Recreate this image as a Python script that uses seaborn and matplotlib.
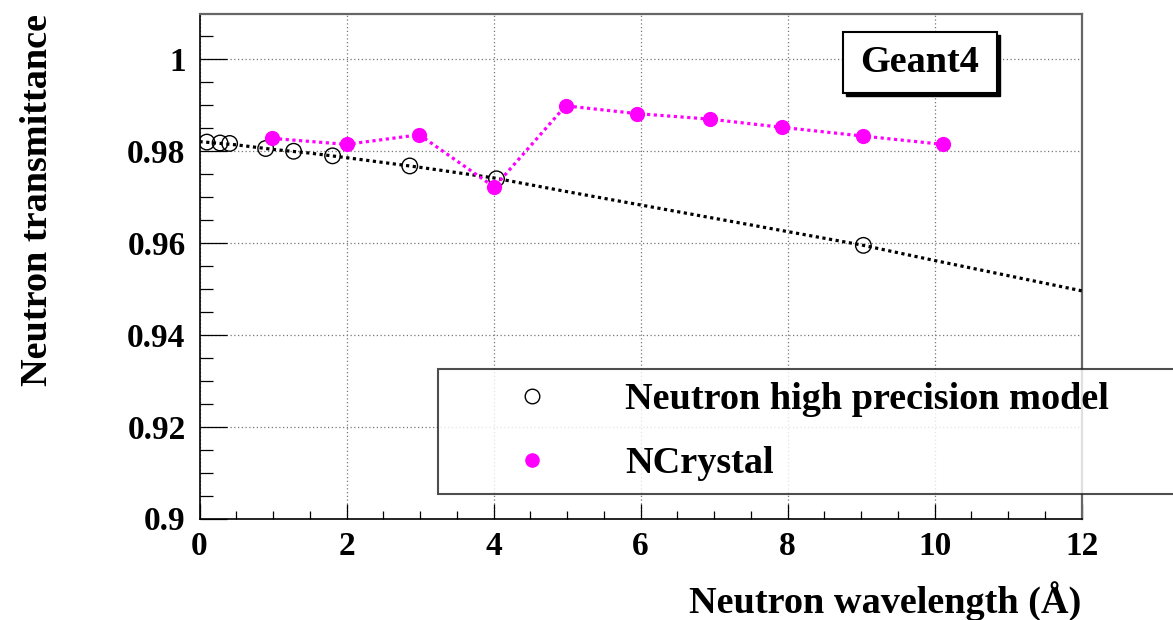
"""Neutron transmittance vs wavelength, ROOT-style figure redrawn with seaborn."""

import numpy as np
import pandas as pd
import matplotlib
matplotlib.use("Agg")
import matplotlib.pyplot as plt
from matplotlib.lines import Line2D
from matplotlib.patches import Rectangle
from matplotlib.ticker import MultipleLocator
import seaborn as sns

# data
hp_wavelength = [0.10, 0.28, 0.41, 0.90, 1.28, 1.81, 2.86, 4.04, 9.03]
hp_transmittance = [0.9820, 0.9818, 0.9817, 0.9806, 0.9800, 0.9790, 0.9768, 0.9740, 0.9595]

curve_wavelength = [0, 0.5, 1, 1.5, 2, 3, 4, 5, 6, 7, 8, 9, 10, 11, 12]
curve_transmittance = [0.9821, 0.9814, 0.9804, 0.9796, 0.9786, 0.9765, 0.9742, 0.9712,
                       0.9683, 0.9654, 0.9625, 0.9596, 0.9562, 0.9529, 0.9496]

nc_wavelength = [0.99, 2.00, 2.99, 4.01, 4.98, 5.95, 6.94, 7.93, 9.03, 10.11]
nc_transmittance = [0.9828, 0.9815, 0.9836, 0.9722, 0.9899, 0.9882, 0.9870, 0.9852, 0.9833, 0.9815]

x_ticks = [0, 2, 4, 6, 8, 10, 12]
y_ticks = [0.9, 0.92, 0.94, 0.96, 0.98, 1.0]
y_tick_labels = ["0.9", "0.92", "0.94", "0.96", "0.98", "1"]

sns.set_theme(style="white")
plt.rcParams["font.family"] = ["Liberation Serif", "DejaVu Serif"]
plt.rcParams["font.weight"] = "bold"
plt.rcParams["text.color"] = "black"
plt.rcParams["axes.labelcolor"] = "black"
plt.rcParams["xtick.color"] = "black"
plt.rcParams["ytick.color"] = "black"

W, H = 1173, 620
fig = plt.figure(figsize=(W / 100, H / 100), dpi=100)
ax = fig.add_axes([199.5 / W, 1 - 518.5 / H, (1081.7 - 199.5) / W, (518.5 - 14) / H])

hp = pd.DataFrame({"x": hp_wavelength, "y": hp_transmittance})
curve = pd.DataFrame({"x": curve_wavelength, "y": curve_transmittance})
nc = pd.DataFrame({"x": nc_wavelength, "y": nc_transmittance})

dot = (0, (1, 1.1))
sns.lineplot(data=curve, x="x", y="y", ax=ax, color="black", lw=2.3,
             linestyle=dot, sort=False, zorder=3)
sns.scatterplot(data=hp, x="x", y="y", ax=ax, s=125, facecolor="none",
                edgecolor="black", linewidth=1.0, zorder=4)
sns.lineplot(data=nc, x="x", y="y", ax=ax, color="#ff00ff", lw=2.3,
             linestyle=dot, sort=False, zorder=5)
sns.scatterplot(data=nc, x="x", y="y", ax=ax, s=120, color="#ff00ff",
                edgecolor="#ff00ff", linewidth=0, zorder=6)

ax.set_xlim(0, 12)
ax.set_ylim(0.9, 1.0099)
ax.set_xticks(x_ticks)
ax.set_yticks(y_ticks)
ax.set_yticklabels(y_tick_labels)
ax.xaxis.set_minor_locator(MultipleLocator(0.5))
ax.yaxis.set_minor_locator(MultipleLocator(0.005))

ax.grid(True, which="major", color="#777777", linestyle=(0, (1, 2)), lw=0.9)
ax.tick_params(axis="both", which="both", direction="in", colors="black",
               width=0.9, labelsize=24, bottom=True, left=True, top=False, right=False)
ax.tick_params(axis="y", which="major", length=19.5, pad=10)
ax.tick_params(axis="y", which="minor", length=9.5)
ax.tick_params(axis="x", which="major", length=11, pad=9)
ax.tick_params(axis="x", which="minor", length=5.5)
for lab in ax.get_xticklabels() + ax.get_yticklabels():
    lab.set_fontweight("bold")

for side in ("left", "bottom"):
    ax.spines[side].set_color("black")
    ax.spines[side].set_linewidth(1.2)
for side in ("top", "right"):
    ax.spines[side].set_color("#666666")
    ax.spines[side].set_linewidth(1.6)

ax.set_xlabel("Neutron wavelength (Å)", fontsize=27.5, fontweight="bold",
              loc="right", labelpad=14)
ax.set_ylabel("Neutron transmittance", fontsize=27.5, fontweight="bold",
              loc="top", labelpad=52)

# legend box
handles = [
    Line2D([], [], ls="none", marker="o", ms=10.5, mfc="none", mec="black", mew=1.0),
    Line2D([], [], ls="none", marker="o", ms=9.5, mfc="#ff00ff", mec="#ff00ff"),
]
leg = fig.legend(handles, ["Neutron high precision model", "NCrystal"],
                 loc="upper left",
                 bbox_to_anchor=(438 / W, 1 - 491 / H, (1185 - 438) / W, (491 - 369) / H),
                 mode="expand", fontsize=27.5, frameon=True, fancybox=False,
                 borderpad=0.35, labelspacing=0.75, handlelength=4.2,
                 handletextpad=0.35, borderaxespad=0)
leg.get_frame().set_edgecolor("#222222")
leg.get_frame().set_linewidth(1.5)
for t in leg.get_texts():
    t.set_fontweight("bold")

# Geant4 label with shadow
x0, x1, y0, y1 = 842.7, 996.7, 31.7, 93.3
fig.patches.append(Rectangle(((x0 + 3) / W, 1 - (y1 + 3) / H), (x1 - x0) / W, (y1 - y0) / H,
                             transform=fig.transFigure, facecolor="black", edgecolor="black",
                             zorder=10))
fig.patches.append(Rectangle((x0 / W, 1 - y1 / H), (x1 - x0) / W, (y1 - y0) / H,
                             transform=fig.transFigure, facecolor="white", edgecolor="black",
                             lw=1.5, zorder=11))
fig.text((x0 + x1) / 2 / W, 1 - (y0 + y1) / 2 / H, "Geant4", fontsize=27.5,
         fontweight="bold", ha="center", va="center", zorder=12)

fig.savefig("out.png", dpi=100)
